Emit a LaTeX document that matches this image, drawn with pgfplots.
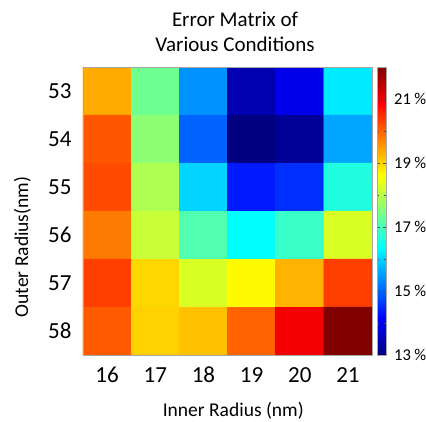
\documentclass[border=0pt]{standalone}
\usepackage{pgfplots}
\pgfplotsset{compat=1.18}
\usepackage{fontspec}
\setmainfont{Carlito}
\begin{document}
\begin{tikzpicture}
\path[use as bounding box] (-83pt,-67pt) rectangle (343pt,355pt);
\begin{axis}[
  at={(0,0)}, anchor=south west,
  scale only axis, width=289pt, height=288pt,
  xmin=15.5, xmax=21.5, ymin=52.5, ymax=58.5,
  y dir=reverse,
  enlargelimits=false,
  axis on top,
  xtick={16,...,21}, ytick={53,...,58},
  major tick length=0pt,
  axis line style={gray!70, line width=0.8pt},
  /pgf/number format/assume math mode=true,
  tick label style={font=\fontsize{23}{27}\selectfont, black},
  xticklabel style={anchor=base, yshift=-27pt},
  yticklabel style={anchor=east, xshift=-8pt},
  xlabel={Inner Radius (nm)},
  ylabel={Outer Radius(nm)},
  label style={font=\fontsize{19.5}{23}\selectfont},
  xlabel style={at={(axis description cs:0.52,0)}, anchor=base, yshift=-61pt},
  ylabel style={at={(axis description cs:-0.19,0.375)}, anchor=base, rotate=0},
  title={Error Matrix of\\Various Conditions},
  title style={at={(axis description cs:0.526,1)}, anchor=south, yshift=6pt, align=center, font=\fontsize{21}{25}\selectfont},
  colormap/jet,
  point meta min=13, point meta max=22,
  colorbar,
  colorbar style={
    at={(parent axis.north east)}, anchor=north west, xshift=-3.5pt,
    width=9pt, height=288pt,
    scale only axis,
    ytick={13,15,17,19,21},
    minor ytick={14,16,18,20,22},
    yticklabel={\pgfmathprintnumber{\tick}\hspace{0.2em}\%},
    /pgf/number format/assume math mode=true,
    yticklabel style={font=\fontsize{16.5}{20}\selectfont, anchor=west, xshift=0pt, inner sep=0pt},
    yticklabel shift=8pt,
    major tick length=3pt, minor tick length=2pt,
    tick style={black!70},
    axis line style={gray!70, line width=0.8pt},
  },
]
\addplot[matrix plot*, mesh/cols=6, point meta=explicit] table[meta=c] {
x y c
16 53 19.37
17 53 17.35
18 53 15.41
19 53 13.43
20 53 13.95
21 53 16.20
16 54 20.12
17 54 17.61
18 54 15.00
19 54 13.00
20 54 13.20
21 54 15.58
16 55 20.22
17 55 17.92
18 55 16.00
19 55 14.35
20 55 14.53
21 55 16.65
16 56 19.80
17 56 18.14
18 56 17.08
19 56 16.37
20 56 16.87
21 56 18.30
16 57 20.33
17 57 18.98
18 57 18.30
19 57 18.67
20 57 19.30
21 57 20.33
16 58 20.08
17 58 19.03
18 58 19.17
19 58 19.99
20 58 20.97
21 58 22.00
};
\end{axis}
\end{tikzpicture}
\end{document}
